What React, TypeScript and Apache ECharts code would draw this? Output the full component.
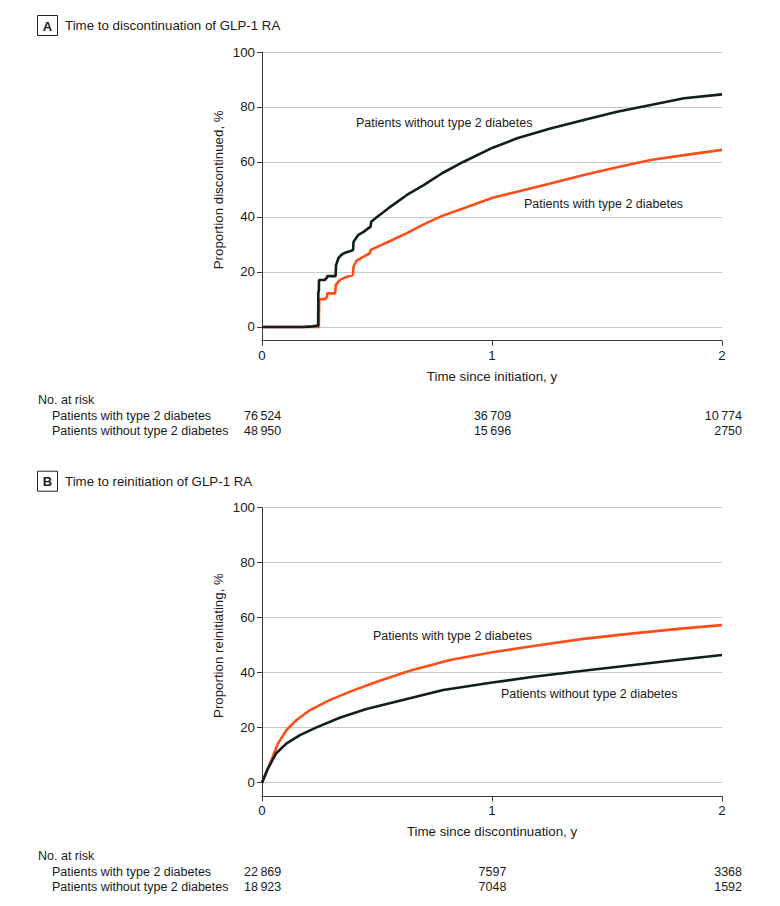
import React, { useEffect, useRef } from "react";
import * as echarts from "echarts";

const FONT = "'Liberation Sans', Arial, sans-serif";
const BLACK = "#0e1f1e";
const ORANGE = "#ff4d17";
const TEXT = "#1a1a1a";

const xTicks = [0, 1, 2];
const yTicks = [0, 20, 40, 60, 80, 100];

// Panel A: time to discontinuation (t in years, proportion %)
const discWithoutT2D: [number, number][] = [
  [0, 0], [0.18, 0], [0.22, 0.2], [0.244, 0.5], [0.245, 12.8], [0.247, 13], [0.248, 17.1],
  [0.275, 17.1], [0.277, 17.7], [0.282, 17.7], [0.283, 18.5], [0.32, 18.5], [0.322, 22.5],
  [0.332, 25], [0.345, 26.2], [0.361, 27], [0.385, 27.6], [0.396, 28], [0.398, 31],
  [0.419, 33.5], [0.44, 34.5], [0.472, 36.5], [0.475, 38.3], [0.5, 40], [0.55, 43.2],
  [0.63, 48], [0.703, 51.6], [0.783, 55.9], [0.877, 60.1], [1.003, 65.2], [1.109, 68.6],
  [1.254, 72.2], [1.399, 75.3], [1.544, 78.3], [1.69, 80.7], [1.835, 83.2], [2.0, 84.6],
];
const discWithT2D: [number, number][] = [
  [0, 0], [0.247, 0], [0.248, 6.8], [0.249, 10.1], [0.277, 10.2], [0.28, 10.6], [0.282, 10.8],
  [0.284, 12.2], [0.318, 12.2], [0.321, 15.3], [0.339, 17.1], [0.37, 18.3], [0.395, 18.9],
  [0.398, 21.9], [0.41, 24], [0.44, 25.5], [0.469, 26.8], [0.472, 28], [0.51, 29.5],
  [0.55, 31], [0.63, 34.1], [0.703, 37.3], [0.783, 40.4], [0.877, 43.2], [1.003, 47],
  [1.109, 49.2], [1.254, 52.2], [1.399, 55.3], [1.544, 58.1], [1.69, 60.7], [1.835, 62.5],
  [2.0, 64.4],
];

// Panel B: time to reinitiation
const reinitWithT2D: [number, number][] = [
  [0, 0], [0.035, 7], [0.07, 14.3], [0.107, 19.2], [0.15, 22.8], [0.209, 26.4], [0.296, 30.1],
  [0.383, 33.1], [0.499, 36.7], [0.643, 40.7], [0.817, 44.6], [1.001, 47.4], [1.18, 49.7],
  [1.397, 52.3], [1.614, 54.3], [1.832, 56.1], [2.0, 57.3],
];
const reinitWithoutT2D: [number, number][] = [
  [0, 0], [0.026, 5.2], [0.062, 10.7], [0.107, 14.3], [0.165, 17.3], [0.237, 20.1],
  [0.338, 23.6], [0.454, 26.8], [0.599, 29.8], [0.788, 33.7], [1.001, 36.4], [1.18, 38.5],
  [1.397, 40.7], [1.614, 42.8], [1.832, 44.9], [2.0, 46.4],
];

const groupLabels = ["Patients with type 2 diabetes", "Patients without type 2 diabetes"];
const riskA_with = ["76\u2009524", "36\u2009709", "10\u2009774"];
const riskA_without = ["48\u2009950", "15\u2009696", "2750"];
const riskB_with = ["22\u2009869", "7597", "3368"];
const riskB_without = ["18\u2009923", "7048", "1592"];

function App() {
  const ref = useRef<HTMLDivElement>(null);
  useEffect(() => {
    if (!ref.current) return;
    const chart = echarts.init(ref.current, undefined, { renderer: "svg" });

    const xAxis = (gridIndex: number, name: string) => ({
      type: "value",
      gridIndex,
      min: 0,
      max: 2,
      interval: 1,
      name,
      nameLocation: "middle",
      nameGap: 29,
      nameTextStyle: { fontFamily: FONT, fontSize: 13.3, color: TEXT },
      axisLine: { onZero: false, lineStyle: { color: "#3a3a3a", width: 1 } },
      axisTick: { show: true, length: 5, lineStyle: { color: "#3a3a3a" } },
      axisLabel: { fontFamily: FONT, fontSize: 13.3, color: TEXT, margin: 8, customValues: xTicks },
      splitLine: { show: false },
    });
    const yAxis = (gridIndex: number, name: string) => ({
      type: "value",
      gridIndex,
      min: -5,
      max: 100,
      name,
      nameLocation: "middle",
      nameGap: 37,
      nameMoveOverlap: false,
      nameTextStyle: { fontFamily: FONT, fontSize: 13.3, color: TEXT, padding: [0, 0, 0, 13] },
      axisLine: { show: true, lineStyle: { color: "#3a3a3a", width: 1 } },
      axisTick: { show: true, length: 5, lineStyle: { color: "#3a3a3a" }, customValues: yTicks },
      axisLabel: { fontFamily: FONT, fontSize: 13.3, color: TEXT, margin: 7, customValues: yTicks },
      splitLine: { show: true, lineStyle: { color: "#c8c8c8", width: 1.2 } },
    });

    const line = (name: string, x: number, data: [number, number][], color: string) => ({
      type: "line",
      name,
      xAxisIndex: x,
      yAxisIndex: x,
      data,
      showSymbol: false,
      symbol: "none",
      lineStyle: { color, width: 2.6 },
      z: 3,
    });

    const txt = (x: number, y: number, text: string, extra: any = {}) => ({
      type: "text",
      x,
      y,
      style: {
        text,
        fontFamily: FONT,
        fontSize: 12.5,
        fill: TEXT,
        verticalAlign: "middle",
        align: "left",
        ...extra,
      },
    });

    const panelGraphics = (dy: number, letter: string, title: string, rowsWith: string[], rowsWithout: string[]) => {
      const els: any[] = [
        { type: "rect", shape: { x: 37.5, y: 15.5 + dy, width: 20, height: 20 }, style: { fill: "#fff", stroke: "#222", lineWidth: 1 } },
        txt(47.5, 26 + dy, letter, { align: "center", fontWeight: "bold", fontSize: 13 }),
        txt(65, 25.5 + dy, title, { fontSize: 13.3 }),
        txt(38, 400 + dy, "No. at risk"),
        txt(52, 416 + dy, groupLabels[0]),
        txt(52, 431 + dy, groupLabels[1]),
      ];
      const rows = [rowsWith, rowsWithout];
      rows.forEach((r, i) => {
        const y = (i === 0 ? 416 : 431) + dy;
        els.push(txt(244, y, r[0], { align: "left" }));
        els.push(txt(492.5, y, r[1], { align: "center" }));
        els.push(txt(742, y, r[2], { align: "right" }));
      });
      return els;
    };

    const dyB = 455.7;

    chart.setOption({
      animation: false,
      backgroundColor: "#ffffff",
      grid: [
        { left: 262, right: 58, top: 52, bottom: 906 - 340.7 },
        { left: 262, right: 58, top: 52 + dyB, bottom: 906 - 340.7 - dyB },
      ],
      xAxis: [xAxis(0, "Time since initiation, y"), xAxis(1, "Time since discontinuation, y")],
      yAxis: [yAxis(0, "Proportion discontinued, %"), yAxis(1, "Proportion reinitiating, %")],
      series: [
        line("Patients with type 2 diabetes", 0, discWithT2D, ORANGE),
        line("Patients without type 2 diabetes", 0, discWithoutT2D, BLACK),
        line("Patients with type 2 diabetes", 1, reinitWithT2D, ORANGE),
        line("Patients without type 2 diabetes", 1, reinitWithoutT2D, BLACK),
      ],
      graphic: [
        ...panelGraphics(0, "A", "Time to discontinuation of GLP-1 RA", riskA_with, riskA_without),
        ...panelGraphics(dyB, "B", "Time to reinitiation of GLP-1 RA", riskB_with, riskB_without),
        txt(356, 123, groupLabels[1]),
        txt(524, 204, groupLabels[0]),
        txt(373, 636, groupLabels[0]),
        txt(501, 694, groupLabels[1]),
      ],
    });
    return () => chart.dispose();
  }, []);
  return (
    <div
      ref={ref}
      style={{ position: "fixed", left: 0, top: 0, width: 780, height: 906, background: "#fff" }}
    />
  );
}

export default App;
